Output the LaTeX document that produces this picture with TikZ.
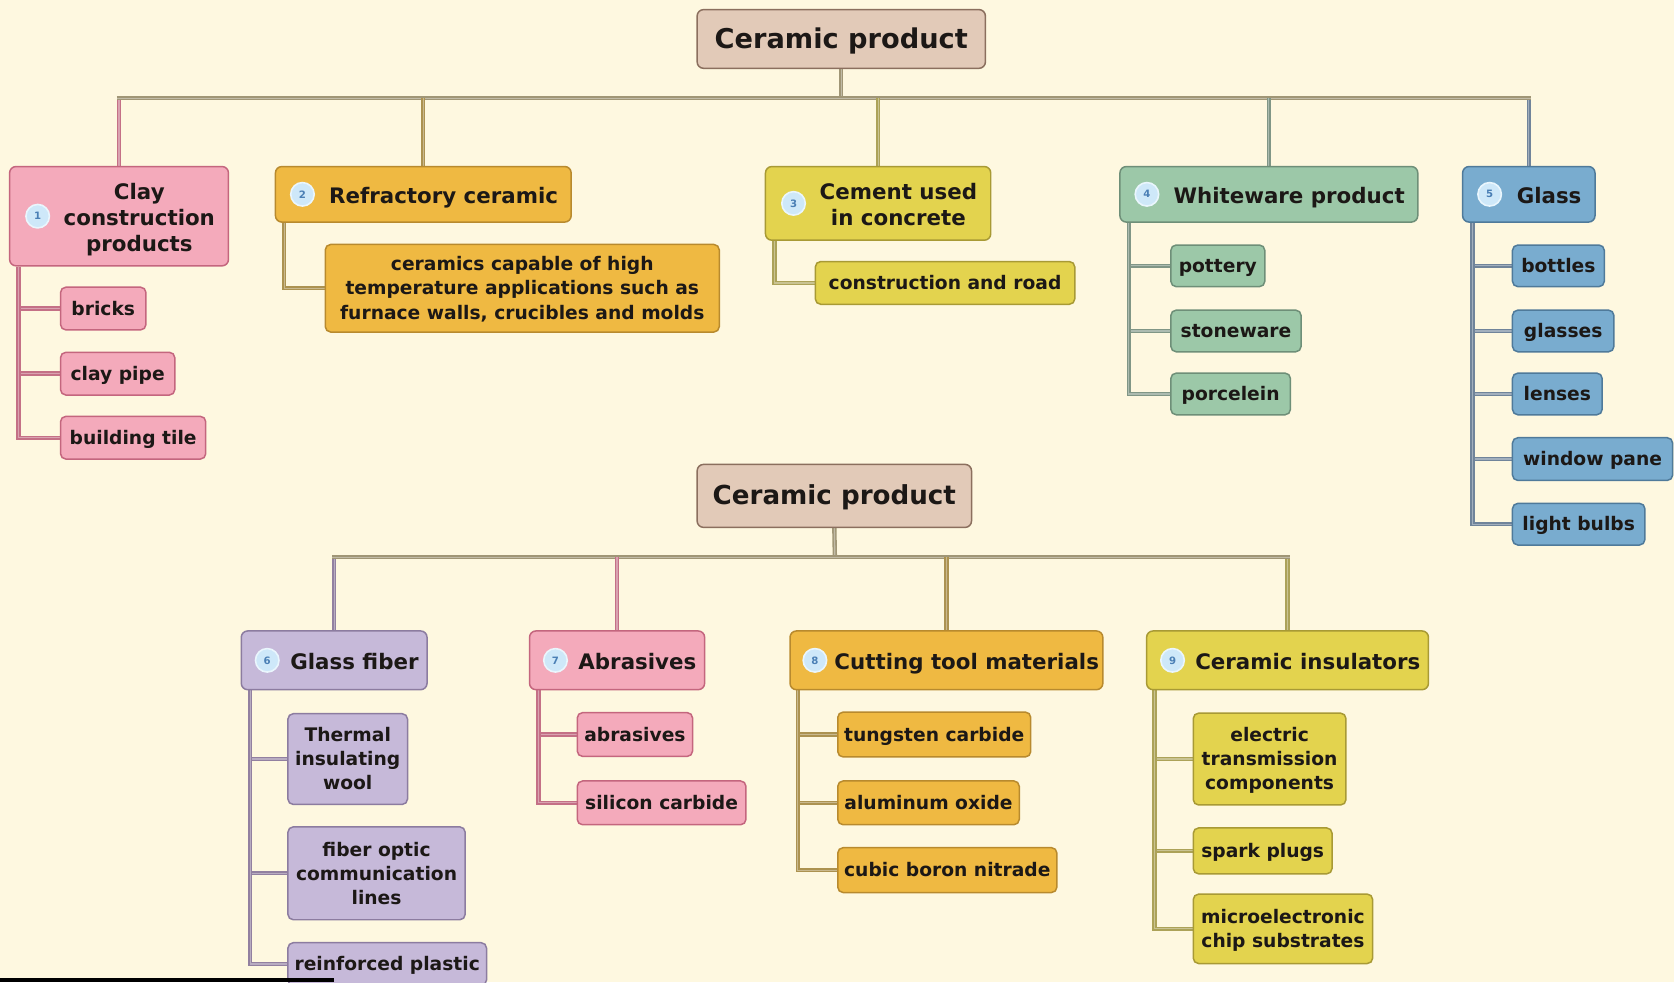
\documentclass[tikz,border=0pt]{standalone}
\usepackage{fontspec}
\setmainfont{DejaVu Sans}
\usetikzlibrary{calc}

% palette
\definecolor{paper}{RGB}{254,248,224}
\definecolor{ink}{RGB}{28,24,22}
\definecolor{rootfill}{RGB}{226,202,184}
\definecolor{rootedge}{RGB}{139,111,94}
\definecolor{pinkfill}{RGB}{244,170,187}
\definecolor{pinkedge}{RGB}{196,102,126}
\definecolor{goldfill}{RGB}{239,185,66}
\definecolor{goldedge}{RGB}{184,138,46}
\definecolor{yellowfill}{RGB}{227,211,78}
\definecolor{yellowedge}{RGB}{168,154,53}
\definecolor{greenfill}{RGB}{156,200,168}
\definecolor{greenedge}{RGB}{110,143,120}
\definecolor{bluefill}{RGB}{121,172,207}
\definecolor{blueedge}{RGB}{79,122,154}
\definecolor{lavfill}{RGB}{198,185,217}
\definecolor{lavedge}{RGB}{140,124,160}
\definecolor{busline}{RGB}{160,150,118}
\definecolor{pinkline}{RGB}{196,112,134}
\definecolor{goldline}{RGB}{172,146,80}
\definecolor{yellowline}{RGB}{172,162,88}
\definecolor{greenline}{RGB}{128,150,134}
\definecolor{blueline}{RGB}{112,132,154}
\definecolor{lavline}{RGB}{146,128,160}
\definecolor{badgefill}{RGB}{206,232,249}
\definecolor{badgering}{RGB}{234,246,253}
\definecolor{badgeink}{RGB}{74,127,181}

\pgfdeclarelayer{links}
\pgfsetlayers{links,main}

% text set a little below the box centre, keeping its size
\newcommand\lowered[2]{\raisebox{-#1}[\height][\depth]{\begin{tabular}{@{}c@{}}#2\end{tabular}}}
% heading text: room for the number disc, lines centred
\newcommand\headtext[1]{\hspace*{38pt}\lowered{3.5pt}{#1}}
\newcommand\leaftext[1]{\lowered{1.8pt}{#1}}

\tikzset{
  box/.style={draw, rounded corners=6pt, line width=1.4pt, inner sep=2pt, text=ink},
  rootbox/.style={box, fill=rootfill, draw=rootedge,
    font=\fontsize{25.5}{30}\selectfont\bfseries},
  head/.style={box, fill=#1fill, draw=#1edge,
    font=\fontsize{20}{24.5}\selectfont\bfseries},
  leaf/.style={box, rounded corners=5pt, fill=#1fill, draw=#1edge, anchor=west,
    inner xsep=6pt, minimum height=40pt,
    font=\fontsize{17.5}{22.5}\selectfont\bfseries},
  badge/.style={circle, fill=badgefill, draw=badgering, line width=1.5pt,
    minimum size=22pt, inner sep=0pt, text=badgeink,
    font=\fontsize{9.5}{9.5}\selectfont\bfseries},
  link/.style={line width=1.5pt, double distance=1.1pt, draw=#1, double=#1!65!white},
}

\begin{document}
\begin{tikzpicture}[x=1pt,y=-1pt]
\useasboundingbox (0,0) rectangle (1568,920);

% ---------- upper tree ----------
\node[rootbox, minimum width=270pt, minimum height=55pt] (rootA) at (788,36.5) {\lowered{2.5pt}{Ceramic product}};
\coordinate (busA) at (788,92);

\node[head=pink, minimum width=205pt, minimum height=93pt] (clay) at (111.5,202.5) {\headtext{Clay\\construction\\products}};
\node[head=gold, minimum width=277pt, minimum height=52pt] (refr) at (396.5,182) {\headtext{Refractory ceramic}};
\node[head=yellow, minimum width=211pt, minimum height=69pt] (cem) at (822.5,190.5) {\headtext{Cement used\\in concrete}};
\node[head=green, minimum width=279pt, minimum height=52pt] (white) at (1188.5,182) {\headtext{Whiteware product}};
\node[head=blue, minimum width=124pt, minimum height=52pt] (glass) at (1432,182) {\headtext{Glass}};

\node[badge] (n1) at ([xshift=27pt]clay.west) {1};
\node[badge] (n2) at ([xshift=26pt]refr.west) {2};
\node[badge] (n3) at ([xshift=27pt]cem.west) {3};
\node[badge] (n4) at ([xshift=26pt]white.west) {4};
\node[badge] (n5) at ([xshift=26pt]glass.west) {5};

\node[leaf=pink, minimum width=80pt] (bricks) at (56,289) {\leaftext{bricks}};
\node[leaf=pink, minimum width=107pt] (pipe) at (56,350) {\leaftext{clay pipe}};
\node[leaf=pink, minimum width=136pt] (tile) at (56,410) {\leaftext{building tile}};

\node[leaf=gold, minimum width=369pt, minimum height=82pt] (refrtxt) at (304,270)
  {\leaftext{ceramics capable of high\\temperature applications such as\\furnace walls, crucibles and molds}};

\node[leaf=yellow, minimum width=243pt] (road) at (763,265) {\leaftext{construction and road}};

\node[leaf=green, minimum width=88pt, minimum height=39pt] (pottery) at (1096,249) {\leaftext{pottery}};
\node[leaf=green, minimum width=122pt, minimum height=39pt] (stone) at (1096,310) {\leaftext{stoneware}};
\node[leaf=green, minimum width=112pt, minimum height=39pt] (porc) at (1096,369) {\leaftext{porcelein}};

\node[leaf=blue, minimum width=86pt, minimum height=39pt] (bottles) at (1416,249) {\leaftext{bottles}};
\node[leaf=blue, minimum width=95pt, minimum height=39pt] (glasses) at (1416,310) {\leaftext{glasses}};
\node[leaf=blue, minimum width=84pt, minimum height=39pt] (lenses) at (1416,369) {\leaftext{lenses}};
\node[leaf=blue, minimum width=150pt] (pane) at (1416,430) {\leaftext{window pane}};
\node[leaf=blue, minimum width=124pt, minimum height=39pt] (bulbs) at (1416,491) {\leaftext{light bulbs}};

% ---------- lower tree ----------
\node[rootbox, minimum width=257pt, minimum height=59pt, font=\fontsize{24.5}{29}\selectfont\bfseries] (rootB) at (781.5,464.5) {\lowered{2.5pt}{Ceramic product}};
\coordinate (busB) at (782,522);

\node[head=lav, minimum width=174pt, minimum height=55pt] (fiber) at (313,618.5) {\headtext{Glass fiber}};
\node[head=pink, minimum width=164pt, minimum height=55pt] (abr) at (578,618.5) {\headtext{Abrasives}};
\node[head=gold, minimum width=293pt, minimum height=55pt] (cut) at (886.5,618.5) {\headtext{Cutting tool materials}};
\node[head=yellow, minimum width=264pt, minimum height=55pt] (ins) at (1206,618.5) {\headtext{Ceramic insulators}};

\node[badge] (n6) at ([xshift=25pt]fiber.west) {6};
\node[badge] (n7) at ([xshift=25pt]abr.west) {7};
\node[badge] (n8) at ([xshift=24pt]cut.west) {8};
\node[badge] (n9) at ([xshift=25pt]ins.west) {9};

\node[leaf=lav, minimum width=112pt, minimum height=85pt] (wool) at (269,711) {\leaftext{Thermal\\insulating\\wool}};
\node[leaf=lav, minimum width=166pt, minimum height=87pt] (optic) at (269,818) {\leaftext{fiber optic\\communication\\lines}};
\node[leaf=lav, minimum width=186pt] (plastic) at (269,903) {\leaftext{reinforced plastic}};

\node[leaf=pink, minimum width=108pt, minimum height=41pt] (abrl) at (540,688) {\leaftext{abrasives}};
\node[leaf=pink, minimum width=158pt, minimum height=41pt] (sic) at (540,752) {\leaftext{silicon carbide}};

\node[leaf=gold, minimum width=179pt, minimum height=42pt] (wc) at (784,688) {\leaftext{tungsten carbide}};
\node[leaf=gold, minimum width=170pt, minimum height=41pt] (alo) at (784,752) {\leaftext{aluminum oxide}};
\node[leaf=gold, minimum width=204pt, minimum height=42pt] (cbn) at (784,815) {\leaftext{cubic boron nitrade}};

\node[leaf=yellow, minimum width=143pt, minimum height=86pt] (elec) at (1117,711) {\leaftext{electric\\transmission\\components}};
\node[leaf=yellow, minimum width=130pt, minimum height=43pt] (spark) at (1117,797) {\leaftext{spark plugs}};
\node[leaf=yellow, minimum width=168pt, minimum height=65pt] (chip) at (1117,870) {\leaftext{microelectronic\\chip substrates}};

% ---------- connectors, behind the boxes ----------
\begin{pgfonlayer}{links}
\fill[paper] (0,0) rectangle (1568,920);

% upper trunk and branches
\draw[link=busline] (rootA.south) -- (busA);
\draw[link=pinkline] (clay.north) -- ([yshift=2pt]clay.north |- busA);
\draw[link=blueline] (glass.north) -- ([yshift=2pt]glass.north |- busA);
\draw[link=busline] ([xshift=-2pt]clay.north |- busA) -- ([xshift=2pt]glass.north |- busA);
\draw[link=goldline] (refr.north) -- (refr.north |- busA);
\draw[link=yellowline] (cem.north) -- (cem.north |- busA);
\draw[link=greenline] (white.north) -- (white.north |- busA);

\draw[link=pinkline] ([xshift=9pt]clay.south west) |- (bricks.west);
\draw[link=pinkline] ([xshift=9pt]clay.south west) |- (pipe.west);
\draw[link=pinkline] ([xshift=9pt]clay.south west) |- (tile.west);

\draw[link=goldline] ([xshift=9pt]refr.south west) |- (refrtxt.west);
\draw[link=yellowline] ([xshift=9pt]cem.south west) |- (road.west);

\draw[link=greenline] ([xshift=9pt]white.south west) |- (pottery.west);
\draw[link=greenline] ([xshift=9pt]white.south west) |- (stone.west);
\draw[link=greenline] ([xshift=9pt]white.south west) |- (porc.west);

\draw[link=blueline] ([xshift=10pt]glass.south west) |- (bottles.west);
\draw[link=blueline] ([xshift=10pt]glass.south west) |- (glasses.west);
\draw[link=blueline] ([xshift=10pt]glass.south west) |- (lenses.west);
\draw[link=blueline] ([xshift=10pt]glass.south west) |- (pane.west);
\draw[link=blueline] ([xshift=10pt]glass.south west) |- (bulbs.west);

% lower trunk and branches
\draw[link=busline] (rootB.south) -- (busB);
\draw[link=lavline] (fiber.north) -- ([yshift=2pt]fiber.north |- busB);
\draw[link=yellowline] (ins.north) -- ([yshift=2pt]ins.north |- busB);
\draw[link=busline] ([xshift=-2pt]fiber.north |- busB) -- ([xshift=2pt]ins.north |- busB);
\draw[link=pinkline] (abr.north) -- (abr.north |- busB);
\draw[link=goldline] (cut.north) -- (cut.north |- busB);

\draw[link=lavline] ([xshift=9pt]fiber.south west) |- (wool.west);
\draw[link=lavline] ([xshift=9pt]fiber.south west) |- (optic.west);
\draw[link=lavline] ([xshift=9pt]fiber.south west) |- (plastic.west);

\draw[link=pinkline] ([xshift=9pt]abr.south west) |- (abrl.west);
\draw[link=pinkline] ([xshift=9pt]abr.south west) |- (sic.west);

\draw[link=goldline] ([xshift=8pt]cut.south west) |- (wc.west);
\draw[link=goldline] ([xshift=8pt]cut.south west) |- (alo.west);
\draw[link=goldline] ([xshift=8pt]cut.south west) |- (cbn.west);

\draw[link=yellowline] ([xshift=8pt]ins.south west) |- (elec.west);
\draw[link=yellowline] ([xshift=8pt]ins.south west) |- (spark.west);
\draw[link=yellowline] ([xshift=8pt]ins.south west) |- (chip.west);
\end{pgfonlayer}

% dark strip along the lower left edge
\fill[black] (0,916) rectangle (313,920);
\end{tikzpicture}
\end{document}
